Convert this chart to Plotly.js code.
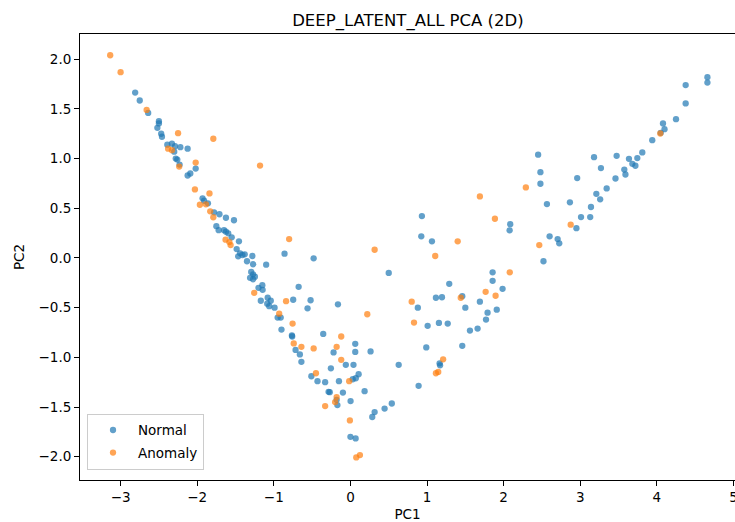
<!DOCTYPE html>
<html>
<head>
<meta charset="utf-8">
<script src="https://cdn.plot.ly/plotly-3.0.1.min.js"></script>
<style>html,body{margin:0;padding:0;background:#fff;}#chart{width:735px;height:522px;}</style>
</head>
<body>
<div id="chart"></div>
<script>
// Normal points (PC1, PC2)
const normalPC1 = [
 -2.81,-2.75,-2.64,-2.50,-2.50,-2.52,-2.47,-2.46,-2.39,-2.33,-2.29,-2.22,-2.125,-2.30,-2.28,-2.26,-2.23,-2.02,-2.125,-2.09,-1.93,
 -1.91,-1.86,-1.78,-1.71,-1.625,-1.52,-1.75,-1.72,-1.65,-1.625,-1.595,-1.55,-1.455,-1.485,-1.44,-1.41,-1.465,-1.38,-1.35,-1.28,-1.27,-1.10,-0.86,
 -1.295,-1.27,-1.247,-1.31,-1.27,-1.15,-1.20,-1.146,-0.676,-1.08,-1.17,-1.04,-1.086,-1.06,-0.99,-0.747,-0.56,-0.95,-0.91,-0.90,-0.764,-0.76,-0.52,
 -0.48,0.50,-0.163,-0.355,0.063,0.063,0.263,-0.716,-0.66,-0.22,-0.64,-0.06,0.04,0.63,-0.255,-0.51,0.107,0.07,-0.43,-0.33,-0.15,0.03,
 0.99,0.89,-0.285,-0.27,-0.098,0.185,-0.18,-0.17,0.002,0.54,0.446,0.316,0.285,0.0,0.068,
 0.933,2.086,2.078,0.925,1.064,1.856,1.856,1.29,1.986,1.116,1.195,1.46,1.69,0.88,1.50,1.79,1.91,1.77,1.155,1.27,1.008,1.66,1.56,1.46,1.164,1.17,
 4.66,4.66,4.376,4.376,4.25,4.08,4.10,3.94,3.81,3.745,3.636,3.68,3.72,3.475,3.575,3.59,3.46,3.18,3.27,3.345,3.21,3.26,3.14,3.01,3.13,2.95,2.96,2.865,
 2.45,2.48,2.48,2.565,2.60,2.705,2.726,2.52,4.05
];
const normalPC2 = [
 1.665,1.585,1.46,1.377,1.354,1.31,1.25,1.22,1.14,1.15,1.125,1.115,1.10,1.07,1.00,0.99,0.94,0.90,0.83,0.85,0.60,
 0.576,0.55,0.46,0.44,0.405,0.38,0.32,0.28,0.28,0.265,0.248,0.208,0.168,0.09,0.047,0.03,0.017,0.037,-0.033,0.02,-0.063,-0.067,0.043,
 -0.14,-0.164,-0.188,-0.20,-0.214,-0.274,-0.30,-0.32,-0.29,-0.40,-0.43,-0.43,-0.46,-0.485,-0.50,-0.42,-0.506,-0.60,-0.60,-0.72,-0.78,-0.79,-0.425,
 -0.003,-0.15,-0.466,-0.764,-0.864,-0.945,-0.94,-0.925,-0.97,-0.95,-1.045,-1.075,-1.075,-1.075,-1.11,-1.19,-1.17,-1.21,-1.24,-1.25,-1.24,-1.22,
 -0.90,-1.286,-1.347,-1.35,-1.354,-1.34,-1.427,-1.48,-1.44,-1.464,-1.515,-1.55,-1.60,-1.80,-1.816,
 0.422,0.34,0.278,0.218,0.168,-0.144,-0.23,-0.26,-0.31,-0.40,-0.395,-0.385,-0.44,-0.50,-0.50,-0.55,-0.52,-0.62,-0.653,-0.66,-0.683,-0.71,-0.73,-0.884,-1.06,-1.08,
 1.82,1.765,1.74,1.555,1.397,1.354,1.296,1.186,1.062,1.005,0.998,0.948,0.928,1.028,0.89,0.84,0.80,1.015,0.905,0.70,0.646,0.59,0.513,0.412,0.412,0.30,0.804,0.56,
 1.04,0.864,0.747,0.543,0.218,0.19,0.148,-0.033,1.26
];
// Anomaly points (PC1, PC2)
const anomalyPC1 = [
 -3.136,-3.00,-2.66,-2.25,-1.79,-2.38,-2.33,-2.02,-2.235,-1.18,-2.03,-1.84,
 -1.965,-1.886,-1.83,-1.79,-1.63,-1.58,-1.564,-0.80,-1.256,-0.84,-0.93,-0.755,
 0.316,0.22,-0.12,-0.74,-0.64,-0.48,-0.18,-0.12,-0.45,-0.016,
 -0.18,-0.20,-0.33,-0.007,0.076,0.124,
 1.886,1.40,1.107,2.465,2.08,1.765,1.895,1.44,0.80,0.83,1.21,1.146,1.116,
 1.69,2.29,2.875,4.045
];
const anomalyPC2 = [
 2.04,1.87,1.49,1.256,1.20,1.10,1.085,0.96,0.92,0.93,0.69,0.65,
 0.536,0.54,0.47,0.41,0.184,0.16,0.13,0.19,-0.35,-0.435,-0.56,-0.66,
 0.083,-0.566,-0.79,-0.86,-0.894,-0.91,-0.894,-1.025,-1.16,-1.24,
 -1.40,-1.45,-1.49,-1.635,-2.007,-1.983,
 0.395,0.168,0.02,0.13,-0.144,-0.34,-0.38,-0.40,-0.44,-0.65,-1.02,-1.146,-1.16,
 0.62,0.71,0.335,1.253
];
const xTickVals = [-3,-2,-1,0,1,2,3,4,5];
const xTickText = ["\u22123","\u22122","\u22121","0","1","2","3","4","5"];
const yTickVals = [-2,-1.5,-1,-0.5,0,0.5,1,1.5,2];
const yTickText = ["\u22122.0","\u22121.5","\u22121.0","\u22120.5","0.0","0.5","1.0","1.5","2.0"];

const font = "DejaVu Sans, sans-serif";
const traces = [
  {x: normalPC1, y: normalPC2, type: 'scatter', mode: 'markers', name: 'Normal', legendgroup: 'n',
   marker: {color: '#1f77b4', size: 6.3, opacity: 0.7, line: {width: 0}}},
  {x: anomalyPC1, y: anomalyPC2, type: 'scatter', mode: 'markers', name: 'Anomaly', legendgroup: 'a',
   marker: {color: '#ff7f0e', size: 6.3, opacity: 0.7, line: {width: 0}}}
];
const axisCommon = {
  showgrid: false, zeroline: false, showline: true, linecolor: 'black', linewidth: 1,
  ticks: 'outside', ticklen: 5, tickwidth: 1, tickcolor: 'black', ticklabeloverflow: 'allow',
  tickfont: {family: font, size: 13.5, color: 'black'}
};
const layout = {
  width: 735, height: 522,
  margin: {l: 80, r: 0, t: 34, b: 42},
  paper_bgcolor: 'white', plot_bgcolor: 'white',
  font: {family: font, color: 'black'},
  title: {text: 'DEEP_LATENT_ALL PCA (2D)', font: {family: font, size: 16.5, color: 'black'},
          x: 0.555, xanchor: 'center', yref: 'container', y: 0.962, yanchor: 'middle'},
  xaxis: Object.assign({}, axisCommon, {range: [-3.53, 5.02], tickvals: xTickVals, ticktext: xTickText,
          mirror: true, title: {text: 'PC1', font: {family: font, size: 13.5, color: 'black'}, standoff: 6}}),
  yaxis: Object.assign({}, axisCommon, {range: [-2.234, 2.254], tickvals: yTickVals, ticktext: yTickText,
          title: {text: 'PC2', font: {family: font, size: 13.5, color: 'black'}, standoff: 10}}),
  showlegend: true,
  legend: {x: 0.0107, y: 0.023, xanchor: 'left', yanchor: 'bottom',
           bgcolor: 'rgba(255,255,255,0.8)', bordercolor: '#cccccc', borderwidth: 1,
           font: {family: font, size: 13.5, color: 'black'}, traceorder: 'grouped', tracegroupgap: 2, itemwidth: 40}
};
Plotly.newPlot('chart', traces, layout, {displayModeBar: false, staticPlot: true});
</script>
</body>
</html>
